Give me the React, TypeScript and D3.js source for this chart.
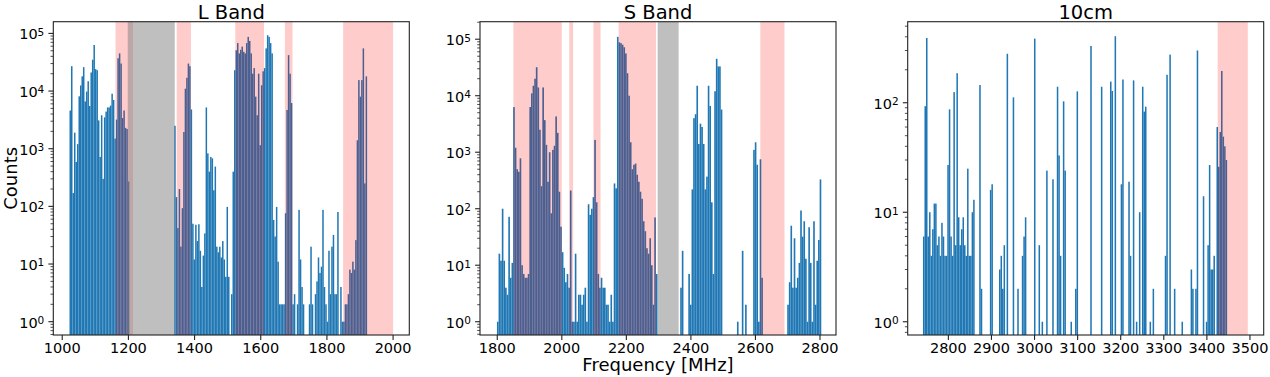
import React from 'react';
import * as d3 from 'd3';

// ---------- data ----------
const lBandStart = 1022;
const lBandBinWidth = 4.52;
const lBandCounts = [
  4600, 27000, 170, 1900, 590, 1200, 8100, 12500, 18000, 26000,
  6600, 9800, 14800, 5500, 21000, 35000, 63000, 24000, 23000, 3100,
  720, 3800, 300, 3500, 4400, 5200, 5200, 5600, 9000, 7000,
  1500, 3200, 37000, 45000, 30000, 3400, 4600, 2300, 2200, 270,
  0, 0, 0, 0, 0, 0, 0, 0, 0, 0,
  0, 0, 0, 0, 0, 0, 0, 0, 0, 0,
  0, 0, 0, 0, 0, 0, 0, 0, 0, 0,
  2500, 145, 42, 200, 20, 93, 1950, 11000, 17000, 30000,
  27000, 4800, 50, 12, 48, 25, 49, 17, 4, 14,
  34, 5200, 830, 400, 720, 680, 190, 490, 20, 16,
  20, 13, 25, 12, 6, 98, 6, 0, 3, 400,
  23000, 51000, 68000, 45000, 52000, 59000, 48000, 45000, 68000, 87000,
  74000, 45000, 20000, 25000, 8000, 3800, 20000, 1150, 12600, 22000,
  25000, 55000, 93000, 87000, 68000, 45000, 58, 30, 98, 11,
  2, 2, 2, 2, 76, 4700, 42000, 20000, 6200, 2,
  3, 0, 2, 87, 12, 4, 2, 0, 0, 0,
  2, 20, 2, 0, 3, 5, 13, 7, 9, 87,
  4, 2, 1, 17, 3, 20, 32, 3, 3, 80,
  0, 4, 1, 1, 2, 2, 3, 8, 7, 11,
  8, 26, 1400, 15500, 8000, 15500, 55000, 250, 18000, 0,
];
const lBandRfi = [[1161, 1214], [1346, 1389], [1523, 1610], [1673, 1696], [1849, 2000]];
const lBandBlocked = [[1198, 1340]];
const lBandXTicks = [1000, 1200, 1400, 1600, 1800, 2000];

const sBandStart = 1799;
const sBandBinWidth = 5.025;
const sBandCounts = [
  1, 16, 12, 100, 12, 4, 3, 72, 6, 11,
  6300, 1200, 500, 450, 780, 10, 7, 6, 6, 7,
  6300, 11000, 15000, 20000, 32000, 14000, 2500, 250, 14000, 3700,
  1350, 300, 1000, 83, 1100, 1300, 4300, 2200, 200, 48,
  17, 9, 5, 7, 4, 210, 1, 1, 16, 1,
  3, 3, 2, 3, 4, 1, 120, 78, 100, 160,
  1650, 130, 7, 4, 6, 4, 4, 2, 2, 1,
  3, 1, 280, 230, 110000, 88000, 85000, 80000, 72000, 56000,
  25000, 10000, 1500, 500, 600, 630, 400, 300, 200, 150,
  60, 40, 20, 16, 30, 10, 2, 70, 7, 0,
  0, 0, 0, 0, 0, 0, 0, 0, 0, 0,
  0, 0, 0, 4, 18, 0, 0, 0, 7, 2,
  220, 4000, 4700, 15000, 1400, 3200, 2800, 1400, 220, 370,
  15000, 6600, 130, 7, 12000, 45000, 33000, 33000, 5700, 0,
  0, 0, 0, 0, 0, 0, 0, 0, 1, 0,
  0, 18, 0, 2, 0, 0, 0, 0, 1100, 1500,
  600, 1, 750, 6, 0, 0, 0, 0, 0, 0,
  0, 0, 0, 0, 0, 0, 0, 0, 0, 2,
  5, 50, 4, 30, 4, 6, 11, 93, 32, 60,
  13, 1, 47, 11, 1, 60, 2, 12, 28, 330,
];
const sBandRfi = [[1850, 2000], [2023, 2035], [2098, 2120], [2176, 2292], [2615, 2690]];
const sBandBlocked = [[2297, 2362]];
const sBandXTicks = [1800, 2000, 2200, 2400, 2600, 2800];

const cm10Start = 2741;
const cm10BinWidth = 3.53;
const cm10Counts = [
  6, 93, 390, 6, 10, 4, 7, 12, 12, 5,
  6, 4, 8, 6, 4, 4, 27, 87, 6, 4,
  125, 5, 186, 9, 5, 7, 9, 5, 4, 25,
  4, 4, 10, 13, 0, 0, 0, 145, 2, 0,
  0, 0, 0, 0, 16, 18, 0, 0, 0, 0,
  3, 4, 2, 5, 0, 280, 0, 0, 0, 112,
  0, 0, 2, 0, 0, 4, 6, 9, 0, 0,
  0, 0, 0, 385, 0, 0, 5, 0, 1, 0,
  0, 24, 0, 0, 0, 20, 0, 0, 140, 33,
  4, 0, 103, 24, 0, 0, 0, 1, 0, 0,
  2, 127, 0, 0, 0, 0, 0, 0, 0, 0,
  330, 0, 0, 0, 0, 0, 0, 140, 0, 0,
  0, 0, 0, 156, 128, 0, 405, 0, 0, 0,
  18, 163, 0, 0, 0, 19, 4, 0, 160, 0,
  1, 0, 10, 0, 140, 83, 92, 0, 0, 1,
  0, 2, 0, 0, 0, 0, 0, 0, 0, 4,
  180, 0, 275, 0, 0, 2, 0, 0, 0, 0,
  1, 0, 0, 0, 0, 0, 3, 2, 0, 2,
  300, 0, 0, 0, 14, 0, 1, 5, 27, 3,
  3, 4, 0, 60, 26, 54, 195, 49, 40, 30,
];
const cm10Rfi = [[3425, 3495]];
const cm10Blocked: number[][] = [];
const cm10XTicks = [2800, 2900, 3000, 3100, 3200, 3300, 3400, 3500];

const titles = ['L Band', 'S Band', '10cm'];

// ---------- layout ----------
const TOP = 21.7;
const BOTTOM = 335;
const PW = 356;
const FONT = 'DejaVu Sans, Verdana, sans-serif';
const BLUE = '#1f77b4';

type PanelCfg = {
  title: string;
  start: number;
  width: number;
  counts: number[];
  rfi: number[][];
  blocked: number[][];
  xTicks: number[];
  xDomain: [number, number];
  yDomain: [number, number];
  left: number;
};

const panels: PanelCfg[] = [
  { title: titles[0], start: lBandStart, width: lBandBinWidth, counts: lBandCounts, rfi: lBandRfi, blocked: lBandBlocked, xTicks: lBandXTicks, xDomain: [973, 2049], yDomain: [Math.pow(10, -0.231), Math.pow(10, 5.203)], left: 53.3 },
  { title: titles[1], start: sBandStart, width: sBandBinWidth, counts: sBandCounts, rfi: sBandRfi, blocked: sBandBlocked, xTicks: sBandXTicks, xDomain: [1746.5, 2849.6], yDomain: [Math.pow(10, -0.235), Math.pow(10, 5.31)], left: 480 },
  { title: titles[2], start: cm10Start, width: cm10BinWidth, counts: cm10Counts, rfi: cm10Rfi, blocked: cm10Blocked, xTicks: cm10XTicks, xDomain: [2705.6, 3531.9], yDomain: [Math.pow(10, -0.121), Math.pow(10, 2.74)], left: 907.7 },
];

function Panel({ cfg }: { cfg: PanelCfg }) {
  const x = d3.scaleLinear().domain(cfg.xDomain).range([cfg.left, cfg.left + PW]);
  const y = d3.scaleLog().domain(cfg.yDomain).range([BOTTOM, TOP]);
  const lo = Math.floor(Math.log10(cfg.yDomain[0]));
  const hi = Math.ceil(Math.log10(cfg.yDomain[1]));
  const major: number[] = [];
  const minor: number[] = [];
  for (let d = lo; d <= hi; d++) {
    const v = Math.pow(10, d);
    if (v >= cfg.yDomain[0] && v <= cfg.yDomain[1]) major.push(d);
    for (let k = 2; k <= 9; k++) {
      const m = k * v;
      if (m >= cfg.yDomain[0] && m <= cfg.yDomain[1]) minor.push(m);
    }
  }
  return (
    <g>
      <defs>
        <clipPath id={'clip' + Math.round(cfg.left)}>
          <rect x={cfg.left} y={TOP} width={PW} height={BOTTOM - TOP} />
        </clipPath>
      </defs>
      <g clipPath={`url(#clip${Math.round(cfg.left)})`}>
        {cfg.counts.map((c, i) => {
          if (c <= 0) return null;
          const x0 = x(cfg.start + i * cfg.width);
          const x1 = x(cfg.start + (i + 1) * cfg.width);
          const yt = y(c);
          return <rect key={i} x={x0} y={yt} width={x1 - x0} height={BOTTOM - yt} fill={BLUE} />;
        })}
        {cfg.rfi.map((s, i) => (
          <rect key={'r' + i} x={x(s[0])} y={TOP} width={x(s[1]) - x(s[0])} height={BOTTOM - TOP} fill="red" fillOpacity={0.2} />
        ))}
        {cfg.blocked.map((s, i) => (
          <rect key={'g' + i} x={x(s[0])} y={TOP} width={x(s[1]) - x(s[0])} height={BOTTOM - TOP} fill="gray" fillOpacity={0.5} />
        ))}
      </g>
      <rect x={cfg.left} y={TOP} width={PW} height={BOTTOM - TOP} fill="none" stroke="#222" strokeWidth={1.1} />
      {cfg.xTicks.map((t) => (
        <g key={t}>
          <line x1={x(t)} x2={x(t)} y1={BOTTOM} y2={BOTTOM + 4.9} stroke="#222" strokeWidth={1.1} />
          <text x={x(t)} y={353} textAnchor="middle" fontSize={14.5} fontFamily={FONT} fill="#000">{t}</text>
        </g>
      ))}
      {minor.map((m) => (
        <line key={'m' + m} x1={cfg.left} x2={cfg.left - 2.8} y1={y(m)} y2={y(m)} stroke="#222" strokeWidth={0.8} />
      ))}
      {major.map((d) => (
        <g key={'M' + d}>
          <line x1={cfg.left} x2={cfg.left - 4.9} y1={y(Math.pow(10, d))} y2={y(Math.pow(10, d))} stroke="#222" strokeWidth={1.1} />
          <text x={cfg.left - 9} y={y(Math.pow(10, d)) + 6} textAnchor="end" fontSize={14.5} fontFamily={FONT} fill="#000">
            10<tspan fontSize={10.5} dy={-3.6}>{d}</tspan>
          </text>
        </g>
      ))}
      <text x={cfg.left + PW / 2} y={18.6} textAnchor="middle" fontSize={19.5} fontFamily={FONT} fill="#000">{cfg.title}</text>
    </g>
  );
}

export default function App() {
  return (
    <svg width={1270} height={377} style={{ position: 'absolute', left: 0, top: 0, background: '#fff' }}>
      <rect x={0} y={0} width={1270} height={377} fill="#fff" />
      {panels.map((p) => <Panel key={p.title} cfg={p} />)}
      <text transform={`translate(16.5, ${(TOP + BOTTOM) / 2}) rotate(-90)`} textAnchor="middle" fontSize={18} fontFamily={FONT} fill="#000">Counts</text>
      <text x={658} y={370.5} textAnchor="middle" fontSize={18} fontFamily={FONT} fill="#000">Frequency [MHz]</text>
    </svg>
  );
}
